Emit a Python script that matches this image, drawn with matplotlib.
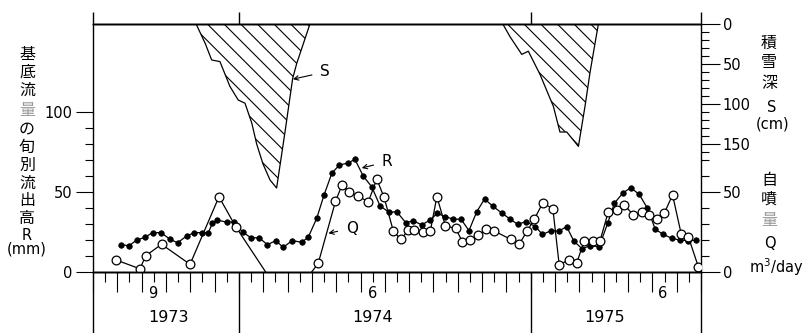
import numpy as np
import matplotlib
matplotlib.use('Agg')
import matplotlib.pyplot as plt
from matplotlib.transforms import blended_transform_factory

plt.rcParams['font.family'] = ['DejaVu Sans']
plt.rcParams['hatch.linewidth'] = 0.8
JP = ['Noto Sans CJK JP', 'DejaVu Sans']

# time axis: months counted from 1 Jan 1973 (6 = 1 Jul 1973, 31 = 1 Aug 1975)
# R : base flow per 10-day period (mm), filled dots
r_month = [7.14, 7.48, 7.80, 8.14, 8.45, 8.80, 9.17, 9.48, 9.85, 10.17, 10.47, 10.74,
           10.91, 11.11, 11.50, 11.81, 12.16, 12.50, 12.83, 13.17, 13.52, 13.82, 14.19,
           14.58, 14.85, 15.20, 15.50, 15.82, 16.13, 16.47, 16.77, 17.11, 17.46, 17.80,
           18.17, 18.49, 18.86, 19.17, 19.52, 19.86, 20.16, 20.47, 20.82, 21.13, 21.46,
           21.78, 22.10, 22.43, 22.81, 23.16, 23.46, 23.80, 24.19, 24.48, 24.83, 25.15,
           25.48, 25.77, 26.12, 26.42, 26.81, 27.17, 27.44, 27.79, 28.11, 28.46, 28.80,
           29.12, 29.45, 29.81, 30.12, 30.48, 30.79]
r_mm = [17.1, 16.4, 20.0, 21.7, 24.6, 24.6, 20.4, 18.3, 22.5, 24.6, 24.6, 24.6,
        30.4, 32.5, 31.1, 31.4, 24.8, 21.4, 21.4, 17.1, 19.6, 15.4, 19.6,
        18.6, 21.7, 33.6, 48.1, 61.7, 66.9, 68.0, 70.4, 60.0, 53.3, 41.4,
        37.3, 37.7, 30.8, 32.0, 29.4, 32.5, 36.7, 34.6, 33.0, 33.0, 25.9,
        37.7, 45.6, 41.3, 36.8, 33.0, 29.8, 31.5, 28.4, 23.5, 25.8, 25.6,
        28.3, 19.3, 14.4, 16.5, 15.8, 30.8, 43.0, 49.4, 52.7, 48.5, 39.8,
        26.7, 23.5, 21.0, 20.0, 19.6, 19.8]

# Q : artesian discharge (m3/day), open circles; 0 = outflow stopped, nan = no record
q_month = [6.95, 7.93, 8.17, 8.82, 9.99, 11.18, 11.87, 13.10, np.nan,
           14.99, 15.26, 15.97, 16.24, 16.53, 16.91, 17.32, 17.67, 17.97, 18.35,
           18.66, 18.96, 19.20, 19.55, 19.87, 20.14, 20.49, 20.91, 21.19, 21.51,
           21.84, 22.17, 22.50, 23.18, 23.52, 23.85, 24.14, 24.50, 24.91, 25.17,
           25.58, 25.89, 26.20, 26.54, 26.85, 27.18, 27.53, 27.85, 28.22, 28.58,
           28.87, 29.18, 29.49, 29.83, 30.19, 30.48, 30.89]
q_flow = [7.5, 2.0, 10.2, 17.3, 4.8, 47.0, 28.3, 0.0, np.nan,
          0.0, 5.4, 44.1, 54.4, 49.8, 47.3, 43.9, 58.0, 46.6, 25.5,
          20.4, 26.0, 26.0, 25.0, 25.6, 47.1, 28.8, 27.3, 18.9, 20.2,
          23.1, 26.7, 25.6, 20.4, 17.3, 25.6, 32.9, 43.3, 39.3, 4.4,
          7.7, 5.6, 19.6, 19.5, 19.5, 37.3, 38.6, 41.9, 35.6, 37.5,
          35.6, 33.3, 36.7, 48.2, 23.5, 22.0, 3.3]

# S : snow depth (cm), two winters
s1_month = [10.24, 10.61, 10.88, 11.22, 11.63, 11.97, 12.25, 12.53, 12.73, 12.99,
            13.28, 13.55, 13.89, 14.21, 14.38, 14.92]
s1_cm = [0, 24, 45, 47, 78, 95, 99, 124, 150, 175, 195, 205, 136, 68, 49, 0]
s2_month = [22.85, 23.15, 23.63, 23.90, 24.38, 24.93, 25.20, 25.48, 25.96, 26.23,
            26.44, 26.78]
s2_cm = [0, 16, 38, 34, 63, 103, 135, 135, 153, 103, 60, 0]

month_labels = [(8.47, '9'), (17.5, '6'), (29.44, '6')]
year_labels = [(9.1, '1973'), (17.5, '1974'), (27.05, '1975')]
frame_edges = [6, 31]
year_bounds = [12, 24]

W, H = 805, 333
fig = plt.figure(figsize=(W / 100, H / 100), dpi=100)
ax = fig.add_axes([93 / W, 61 / H, 608 / W, 248 / H])
ax_s = ax.twinx()
ax_q = ax.twinx()
for a in (ax, ax_s, ax_q):
    a.set_xlim(6, 31)
    for sp in ('left', 'right'):
        a.spines[sp].set_visible(False)
    a.spines['top'].set_linewidth(1.0)
    a.spines['bottom'].set_linewidth(1.0)
ax_s.patch.set_visible(False)
ax_q.patch.set_visible(False)

# left scale R (mm)
ax.set_ylim(0, 155)
ax.set_yticks([0, 50, 100])
ax.set_yticks([10, 20, 30, 40, 60, 70, 80, 90], minor=True)
ax.tick_params(axis='y', which='major', direction='out', length=12, width=0.8,
               labelsize=10.5, pad=3)
ax.tick_params(axis='y', which='minor', direction='out', length=6, width=0.8)

# bottom time ticks: long at month starts, short at mid-month
ax.set_xticks(np.arange(6, 32, 1))
ax.set_xticks(np.arange(6.5, 31, 1), minor=True)
ax.tick_params(axis='x', which='major', direction='out', length=14.5, width=0.8,
               labelbottom=False)
ax.tick_params(axis='x', which='minor', direction='out', length=7.2, width=0.8)

# right scale S (cm), zero at top
ax_s.set_ylim(310, 0)
ax_s.set_yticks([0, 50, 100, 150])
ax_s.set_yticks([v for v in range(10, 170, 10) if v % 50], minor=True)
ax_s.tick_params(axis='y', which='major', direction='out', length=14, width=0.8,
                 labelsize=10.5, pad=1.5)
ax_s.tick_params(axis='y', which='minor', direction='out', length=5.5, width=0.8)
ax_s.tick_params(axis='x', which='both', bottom=False)

# right scale Q (m3/day)
ax_q.set_ylim(0, 155)
ax_q.set_yticks([0, 50])
ax_q.set_yticks([10, 20, 30, 40, 60, 70], minor=True)
ax_q.tick_params(axis='y', which='major', direction='out', length=14, width=0.8,
                 labelsize=10.5, pad=1.5)
ax_q.tick_params(axis='y', which='minor', direction='out', length=5.5, width=0.8)
ax_q.tick_params(axis='x', which='both', bottom=False)

# snow depth, hatched
for sm, sc in ((s1_month, s1_cm), (s2_month, s2_cm)):
    ax_s.fill_between(sm, 0, sc, facecolor='none', edgecolor='black',
                      hatch='\\\\', linewidth=0.9)

# base flow R
ax.plot(r_month, r_mm, color='black', lw=0.9, marker='o', ms=4,
        mfc='black', mec='black', mew=0.5, zorder=3)

# discharge Q (no marker where flow stopped)
q_arr = np.array(q_flow)
ax.plot(q_month, q_flow, color='black', lw=0.9, marker='o', ms=6.3,
        mfc='white', mec='black', mew=0.9, markevery=list(q_arr > 0), zorder=4)

# frame sides run past the axes; year boundaries only outside the plot area
tr = blended_transform_factory(ax.transData, ax.transAxes)
line_kw = dict(transform=tr, color='black', lw=1.0, clip_on=False,
               solid_capstyle='butt')
for xb in frame_edges:
    ax.plot([xb, xb], [-0.3, 1.048], **line_kw)
for xb in year_bounds:
    ax.plot([xb, xb], [1.0, 1.048], **line_kw)
    ax.plot([xb, xb], [-0.3, 0.0], **line_kw)

for xm, lab in month_labels:
    ax.text(xm, -0.085, lab, transform=tr, ha='center', va='center', fontsize=10.5)
for xy, lab in year_labels:
    ax.text(xy, -0.182, lab, transform=tr, ha='center', va='center', fontsize=11.5)

# curve labels
arrow = dict(arrowstyle='->', color='black', lw=0.8, shrinkA=4, shrinkB=0,
             mutation_scale=8)
ax_s.annotate('S', xy=(14.22, 69), xytext=(15.54, 60), fontsize=11,
              ha='center', va='center', arrowprops=arrow)
ax.annotate('R', xy=(17.05, 65), xytext=(18.09, 68.9), fontsize=11,
            ha='center', va='center', arrowprops=arrow)
ax.annotate('Q', xy=(15.68, 24.2), xytext=(16.64, 27.3), fontsize=11,
            ha='center', va='center', arrowprops=arrow)


def stack(x, items):
    for y, s, col in items:
        fig.text(x / W, 1 - y / H, s, ha='center', va='center', fontsize=11.5,
                 color=col, family=JP)


stack(27, [(54, '基', 'black'), (72, '底', 'black'), (90, '流', 'black'),
           (110, '量', '#9a9a9a'), (129, 'の', 'black'), (147, '旬', 'black'),
           (165, '別', 'black'), (183, '流', 'black'), (200, '出', 'black'),
           (218, '高', 'black')])
fig.text(27 / W, 1 - 235 / H, 'R', ha='center', va='center', fontsize=10.5)
fig.text(27 / W, 1 - 249 / H, '(mm)', ha='center', va='center', fontsize=10.5)

stack(769, [(43, '積', 'black'), (63, '雪', 'black'), (83, '深', 'black'),
            (181, '自', 'black'), (199, '噴', 'black'), (221, '量', '#9a9a9a')])
fig.text(772 / W, 1 - 107 / H, 'S', ha='center', va='center', fontsize=10.5)
fig.text(773 / W, 1 - 124 / H, '(cm)', ha='center', va='center', fontsize=10.5)
fig.text(770 / W, 1 - 244 / H, 'Q', ha='center', va='center', fontsize=10.5)
fig.text(776 / W, 1 - 267 / H, 'm$^3$/day', ha='center', va='center', fontsize=10.5)

fig.savefig('out.png', dpi=100)
